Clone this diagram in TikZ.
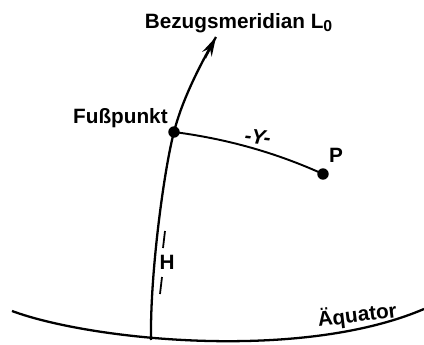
\documentclass[tikz,border=0pt]{standalone}
\usepackage{fontspec}
\setmainfont{Liberation Sans}
\usetikzlibrary{arrows.meta}
\begin{document}
\begin{tikzpicture}[x=0.02cm,y=-0.02cm,
  lbl/.style={font=\fontsize{11.8}{14}\selectfont\bfseries, inner sep=0pt},
  dot/.style={circle, fill=black, inner sep=0pt, minimum size=6.5pt},
  curve/.style={line width=1.3pt}]
\useasboundingbox (0,0) rectangle (424,345);
% equator
\coordinate (eqL) at (12,311);
\coordinate (eqR) at (424,309);
\draw[curve] (eqL) .. controls (90,340) and (300,362) .. (eqR);
% meridian
\coordinate (mb) at (151,340);
\node[dot] (F) at (174,132) {};
\coordinate (tip) at (216,37);
\draw[curve] (mb) .. controls (150,270) and (165,165) .. (F.center)
  .. controls (182,100) and (200,65) .. (tip);
\draw[line width=1.3pt, -{Stealth[length=11pt,width=6pt]}] (205,58) -- (tip);
% Y line
\node[dot] (P) at (323,174) {};
\draw[line width=1.1pt] (F.center) .. controls (220,138) and (270,150) .. (P.center);
% labels
\node[lbl, anchor=base] (title) at (239,28) {Bezugsmeridian L\textsubscript{\fontsize{9}{10}\selectfont 0}};
\node[lbl, anchor=base east] (fp) at (168,123) {Fußpunkt};
\node[lbl, anchor=base] (Pl) at (336,162) {P};
\node[lbl, anchor=base, rotate=-6] (Y) at (257,144) {\itshape -Y-};
\node[lbl, anchor=base] (H) at (167,269) {H};
\node[lbl, anchor=base, rotate=7] (aeq) at (358,322) {Äquator};
% H dashes
\coordinate (d1a) at (165,231);
\coordinate (d1b) at (163,248);
\coordinate (d2a) at (162,277);
\coordinate (d2b) at (160,294);
\draw[line width=1pt] (d1a) -- (d1b);
\draw[line width=1pt] (d2a) -- (d2b);
\end{tikzpicture}
\end{document}
